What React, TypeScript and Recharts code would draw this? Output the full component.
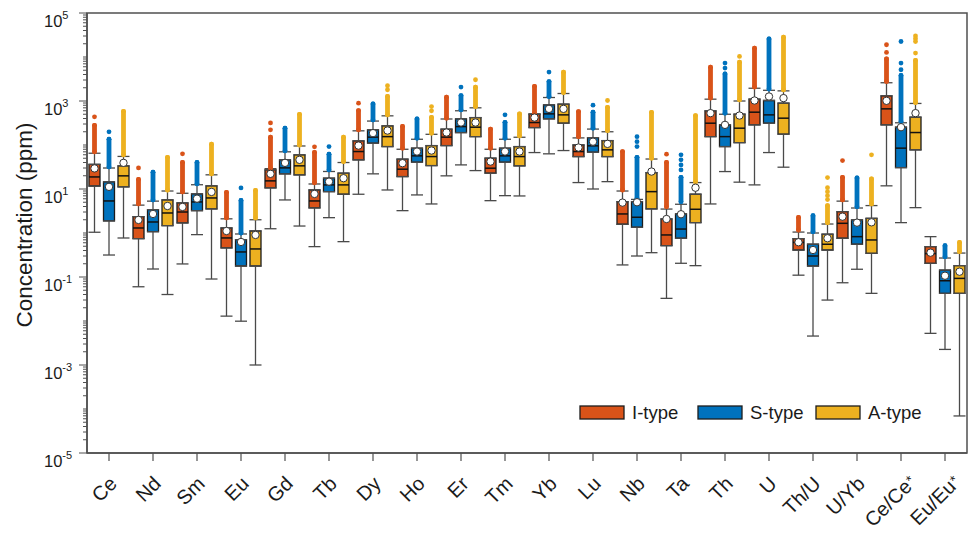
import React from 'react';
import { ComposedChart, XAxis, YAxis, Bar, Scatter, ErrorBar, ReferenceArea } from 'recharts';

// ---------- data ----------
const CATEGORIES = ['Ce', 'Nd', 'Sm', 'Eu', 'Gd', 'Tb', 'Dy', 'Ho', 'Er', 'Tm', 'Yb', 'Lu', 'Nb', 'Ta', 'Th', 'U', 'Th/U', 'U/Yb', 'Ce/Ce*', 'Eu/Eu*'];
const TYPE_NAMES = ['I-type', 'S-type', 'A-type'];

// I-type
const I_MIN = [1.04, 0.06, 0.198, 0.0129, 1.25, 0.49, 7.6, 3.22, 19.9, 5.43, 67.3, 14.0, 0.188, 0.0327, 4.57, 12.4, 0.11, 0.074, 11.8, 0.00524];
const I_Q1 = [11.7, 0.744, 1.69, 0.457, 10.6, 3.71, 45.9, 19.2, 97, 22.9, 249, 54.6, 1.58, 0.515, 155, 287, 0.411, 0.76, 287, 0.205];
const I_MED = [18.8, 1.3, 3.0, 0.772, 15.3, 5.35, 71, 28.2, 151, 29.7, 324, 71, 2.71, 0.903, 313, 557, 0.61, 1.66, 663, 0.34];
const I_Q3 = [36.3, 2.35, 4.82, 1.3, 27.2, 9.5, 124, 47.7, 229, 50.2, 502, 100, 5.15, 2.08, 597, 1104, 0.744, 3.05, 1313, 0.49];
const I_MAX = [65, 4.3, 8.0, 2.1, 29, 13, 210, 80, 390, 80, 505, 145, 9, 3.5, 1100, 1950, 1.05, 5.3, 2600, 0.826];
const I_MEAN = [29.4, 1.98, 3.91, 1.11, 22.1, 7.72, 97, 38.6, 192, 42, 420, 87.5, 4.9, 2.08, 530, 1026, 0.617, 2.35, 1010, 0.357];
const I_OUT_LO = [69.8, 4.57, 8.57, 2.2, 30.2, 13.8, 221, 84.8, 407, 84.8, 530, 155, 9.5, 3.97, 1164, 2070, 1.17, 5.64, 2780, null];
const I_OUT_HI = [280, 16.5, 40, 8.4, 150, 68, 605, 265, 1220, 230, 2160, 575, 71, 40, 5870, 15800, 2.26, 18.4, 9060, null];
const I_OUT_DOTS = [[436], [30.2], [63], [], [318, 221], [90.8], [894], [], [], [], [], [], [], [61.9], [], [], [], [44.3], [19000, 12700], []];

// S-type
const S_MIN = [0.316, 0.152, 0.918, 0.0099, 5.64, 2.23, 22.1, 7.33, 35.3, 7.06, 63, 10, 0.3, 0.205, 24.9, 67.3, 0.00455, 0.15, 1.72, 0.00226];
const S_Q1 = [1.88, 1.07, 3.22, 0.178, 22.1, 8.71, 110, 40.7, 192, 40.7, 393, 68.8, 1.35, 0.76, 92.2, 313, 0.178, 0.555, 30.7, 0.0425];
const S_MED = [5.35, 1.78, 5.08, 0.371, 30.2, 12.4, 151, 56.7, 262, 56.7, 510, 95.7, 2.28, 1.23, 155, 484, 0.3, 0.826, 84.8, 0.0822];
const S_Q3 = [14.5, 3.39, 7.72, 0.706, 45.9, 17.6, 221, 84.8, 393, 84.8, 818, 147, 5.15, 2.72, 287, 1026, 0.555, 1.98, 254, 0.144];
const S_MAX = [30, 5.3, 12.5, 0.95, 70, 25, 350, 135, 600, 135, 1200, 230, 5.8, 4.5, 500, 1750, 1.0, 3.7, 320, 0.27];
const S_MEAN = [11.2, 2.71, 6.04, 0.626, 39.3, 14.7, 186, 71, 324, 71, 663, 119, 5.0, 2.67, 287, 1266, 0.411, 1.72, 254, 0.107];
const S_OUT_LO = [31.8, 5.64, 13.1, 1.0, 73.6, 27.2, 372, 143, 630, 143, 1266, 241, 6.17, 5.15, 530, 1866, 1.07, 3.97, 341, 0.29];
const S_OUT_HI = [135, 24, 40, 5.5, 240, 62, 856, 390, 1330, 327, 2770, 555, 52.5, 18.4, 4130, 25800, 2.47, 17.8, 3800, 0.515];
const S_OUT_DOTS = [[199], [], [], [10.6], [], [92.2], [], [], [2070], [484], [4550], [805], [155, 119, 92.2], [59.7, 46, 35.3, 27.2], [7290, 5610], [], [], [], [22500, 7290, 5130], []];

// A-type
const A_MIN = [0.77, 0.04, 0.09, 0.001, 1.44, 0.636, 9.5, 4.57, 26.2, 6.95, 74.8, 14.7, 0.357, 0.181, 14.3, 31.3, 0.0299, 0.0425, 3.77, 0.0000695];
const A_Q1 = [11.2, 1.47, 3.52, 0.178, 20.9, 7.6, 92.2, 34.1, 155, 33.6, 313, 54.6, 3.52, 1.72, 113, 176, 0.411, 0.346, 77.6, 0.0425];
const A_MED = [19.9, 2.85, 6.26, 0.434, 33.6, 12.4, 155, 54.6, 254, 54.6, 484, 77.6, 8.71, 3.46, 241, 407, 0.555, 0.695, 192, 0.093];
const A_Q3 = [33.6, 5.64, 11.8, 1.11, 59.7, 22.9, 272, 97, 420, 92.2, 848, 126, 23.6, 7.6, 502, 894, 0.937, 2.16, 429, 0.181];
const A_MAX = [55, 9, 21, 2.0, 95, 40, 460, 175, 700, 150, 1480, 200, 48, 14, 1000, 1700, 1.6, 4.2, 880, 0.35];
const A_MEAN = [39.3, 4.11, 8.57, 0.903, 46, 17.6, 213, 74.8, 324, 71, 663, 106, 24.9, 10.7, 467, 1164, 0.76, 1.75, 530, 0.132];
const A_OUT_LO = [59.7, 9.5, 22.1, 2.2, 100, 42, 484, 186, 748, 161, 1560, 213, 50.2, 14.7, 1064, 1800, 1.72, 4.57, 922, 0.377];
const A_OUT_HI = [583, 52.5, 104, 9.3, 499, 150, 1264, 426, 2060, 506, 4514, 720, 554, 466, 7630, 28200, 4.17, 16.9, 8330, 0.61];
const A_OUT_DOTS = [[], [], [], [], [], [], [2220, 1800], [748, 597], [3040], [], [], [1026], [], [], [10300], [], [18.2, 10.7, 8.71, 7.06, 5.75], [59.7], [30000, 26000, 22500, 12300], []];

const LABELED_EXPONENTS = [-5, -3, -1, 1, 3, 5];

// ---------- style ----------
const COLORS = ['#D95319', '#0072BD', '#EDB120'];
const AXIS = '#505050';
const WHISKER = '#4a4a4a';
const EDGE = '#1c1c1c';
const FONT = '"Liberation Sans", Arial, Helvetica, sans-serif';
const BAR_SIZE = 11;
const BAR_GAP = 3.5;
const PLOT_WIDTH = 880;
const BAND_PX = PLOT_WIDTH / CATEGORIES.length;
const TYPE_SHIFT = (BAR_SIZE + BAR_GAP) / BAND_PX;

const STATS = [
  { min: I_MIN, q1: I_Q1, med: I_MED, q3: I_Q3, max: I_MAX, mean: I_MEAN, lo: I_OUT_LO, hi: I_OUT_HI, dots: I_OUT_DOTS },
  { min: S_MIN, q1: S_Q1, med: S_MED, q3: S_Q3, max: S_MAX, mean: S_MEAN, lo: S_OUT_LO, hi: S_OUT_HI, dots: S_OUT_DOTS },
  { min: A_MIN, q1: A_Q1, med: A_MED, q3: A_Q3, max: A_MAX, mean: A_MEAN, lo: A_OUT_LO, hi: A_OUT_HI, dots: A_OUT_DOTS },
];

const rows = CATEGORIES.map((name, i) => ({
  name,
  box0: [I_Q1[i], I_Q3[i]],
  box1: [S_Q1[i], S_Q3[i]],
  box2: [A_Q1[i], A_Q3[i]],
}));

const series = STATS.map((s, t) => {
  const off = (t - 1) * TYPE_SHIFT;
  const xs = CATEGORIES.map((_, i) => i + off);
  return {
    whiskLo: xs.map((x, i) => ({ x, y: s.q1[i], err: [s.q1[i] - s.min[i], 0] })),
    whiskHi: xs.map((x, i) => ({ x, y: s.q3[i], err: [0, s.max[i] - s.q3[i]] })),
    med: xs.map((x, i) => ({ x, y: s.med[i] })),
    mean: xs.map((x, i) => ({ x, y: s.mean[i] })),
    strip: xs
      .map((x, i) => (s.lo[i] != null && s.hi[i] != null ? { x, y: s.lo[i] as number, err: [0, (s.hi[i] as number) - (s.lo[i] as number)] } : null))
      .filter(Boolean),
    dots: xs.flatMap((x, i) => s.dots[i].map((v) => ({ x, y: v }))),
  };
});

const Y_TICKS: number[] = [];
for (let k = -5; k <= 4; k++) {
  for (let m = 1; m <= 9; m++) Y_TICKS.push(m * Math.pow(10, k));
}
Y_TICKS.push(1e5);

// ---------- renderers ----------
const YTick = (props: any) => {
  const { x, y, payload } = props;
  const lg = Math.log10(payload.value);
  const e = Math.round(lg);
  const labeled = Math.abs(lg - e) < 1e-6 && LABELED_EXPONENTS.includes(e);
  return (
    <g>
      <line x1={x - (labeled ? 8 : 4)} x2={x} y1={y} y2={y} stroke={AXIS} strokeWidth={1} />
      {labeled && (
        <text x={x - 43} y={y + 14} fontSize={16.5} fill="#1a1a1a" fontFamily={FONT}>
          10
          <tspan dy={-8} fontSize={11}>{String(e)}</tspan>
        </text>
      )}
    </g>
  );
};

const XTick = (props: any) => {
  const { x, y, payload } = props;
  const label: string = payload.value;
  const star = label.endsWith('*');
  const base = star ? label.slice(0, -1) : label;
  const ax = x + (star ? 12 : 9);
  const ay = y + (star ? 27 : 24);
  return (
    <g transform={`translate(${ax},${ay}) rotate(-45)`}>
      <text textAnchor="end" fontSize={20} fill="#1a1a1a" fontFamily={FONT}>
        {base}
      </text>
      {star && (
        <text x={1} y={-3} textAnchor="start" fontSize={14} fill="#1a1a1a" fontFamily={FONT}>
          *
        </text>
      )}
    </g>
  );
};

const YTitle = (props: any) => {
  const vb = props.viewBox || { x: 0, y: 13, width: 87, height: 440 };
  const cx = vb.x + 24;
  const cy = vb.y + vb.height / 2 - 8;
  return (
    <text x={cx} y={cy} transform={`rotate(-90 ${cx} ${cy})`} textAnchor="middle" dominantBaseline="central" fontSize={22.5} fill="#1a1a1a" fontFamily={FONT}>
      Concentration (ppm)
    </text>
  );
};

const noShape = () => <g />;
const meanShape = (p: any) => <circle cx={p.cx} cy={p.cy} r={3.7} fill="#ffffff" stroke="#333" strokeWidth={1} />;
const medShape = (p: any) => <line x1={p.cx - BAR_SIZE / 2} x2={p.cx + BAR_SIZE / 2} y1={p.cy} y2={p.cy} stroke="#111" strokeWidth={1.5} />;
const dotShape = (color: string) => (p: any) => <circle cx={p.cx} cy={p.cy} r={2.4} fill={color} />;

const LegendOverlay = () => {
  const xs = [580, 698, 816];
  return (
    <svg width={976} height={537} style={{ position: 'absolute', left: 0, top: 0, pointerEvents: 'none' }}>
      {TYPE_NAMES.map((n, t) => (
        <g key={n}>
          <rect x={xs[t]} y={406} width={44} height={13} fill={COLORS[t]} stroke={EDGE} strokeWidth={1.3} />
          <text x={xs[t] + 52} y={419} fontSize={18.5} fill="#1a1a1a" fontFamily={FONT}>{n}</text>
        </g>
      ))}
    </svg>
  );
};

export default function App() {
  return (
    <div style={{ position: 'absolute', left: 0, top: 0, width: 976, height: 537, background: '#fff', fontFamily: FONT }}>
      <ComposedChart
        width={976}
        height={537}
        data={rows}
        margin={{ top: 13, right: 9, bottom: 0, left: 0 }}
        barSize={BAR_SIZE}
        barGap={BAR_GAP}
      >
        <XAxis
          xAxisId="cat"
          dataKey="name"
          type="category"
          height={84}
          interval={0}
          tickSize={8}
          tickMargin={0}
          tick={<XTick />}
          axisLine={{ stroke: AXIS, strokeWidth: 1.5 }}
          tickLine={{ stroke: AXIS, strokeWidth: 1.2 }}
        />
        <XAxis xAxisId="num" dataKey="x" type="number" domain={[-0.5, CATEGORIES.length - 0.5]} allowDataOverflow hide />
        <YAxis
          scale="log"
          domain={[1e-5, 1e5]}
          allowDataOverflow
          ticks={Y_TICKS}
          interval={0}
          width={87}
          tickSize={0}
          tickMargin={0}
          tickLine={false}
          tick={<YTick />}
          axisLine={{ stroke: AXIS, strokeWidth: 1.5 }}
          label={<YTitle />}
        />
        <ReferenceArea
          xAxisId="num"
          x1={-0.5}
          x2={CATEGORIES.length - 0.5}
          y1={1e-5}
          y2={1e5}
          fill="none"
          fillOpacity={0}
          stroke={AXIS}
          strokeWidth={1.5}
          ifOverflow="visible"
        />
        {series.map((s, t) => (
          <Scatter key={`wl${t}`} xAxisId="num" data={s.whiskLo} dataKey="y" shape={noShape} isAnimationActive={false}>
            <ErrorBar dataKey="err" direction="y" width={6} stroke={WHISKER} strokeWidth={1.3} isAnimationActive={false} />
          </Scatter>
        ))}
        {series.map((s, t) => (
          <Scatter key={`wh${t}`} xAxisId="num" data={s.whiskHi} dataKey="y" shape={noShape} isAnimationActive={false}>
            <ErrorBar dataKey="err" direction="y" width={6} stroke={WHISKER} strokeWidth={1.3} isAnimationActive={false} />
          </Scatter>
        ))}
        {TYPE_NAMES.map((n, t) => (
          <Bar
            key={`box${t}`}
            xAxisId="cat"
            dataKey={`box${t}`}
            name={n}
            fill={COLORS[t]}
            stroke={EDGE}
            strokeWidth={1.3}
            isAnimationActive={false}
          />
        ))}
        {series.map((s, t) => (
          <Scatter key={`st${t}`} xAxisId="num" data={s.strip as any[]} dataKey="y" shape={noShape} isAnimationActive={false}>
            <ErrorBar dataKey="err" direction="y" width={0} stroke={COLORS[t]} strokeWidth={4.8} strokeLinecap="round" isAnimationActive={false} />
          </Scatter>
        ))}
        {series.map((s, t) => (
          <Scatter key={`dt${t}`} xAxisId="num" data={s.dots} dataKey="y" shape={dotShape(COLORS[t])} isAnimationActive={false} />
        ))}
        {series.map((s, t) => (
          <Scatter key={`md${t}`} xAxisId="num" data={s.med} dataKey="y" shape={medShape} isAnimationActive={false} />
        ))}
        {series.map((s, t) => (
          <Scatter key={`mn${t}`} xAxisId="num" data={s.mean} dataKey="y" shape={meanShape} isAnimationActive={false} />
        ))}
      </ComposedChart>
      <LegendOverlay />
    </div>
  );
}
